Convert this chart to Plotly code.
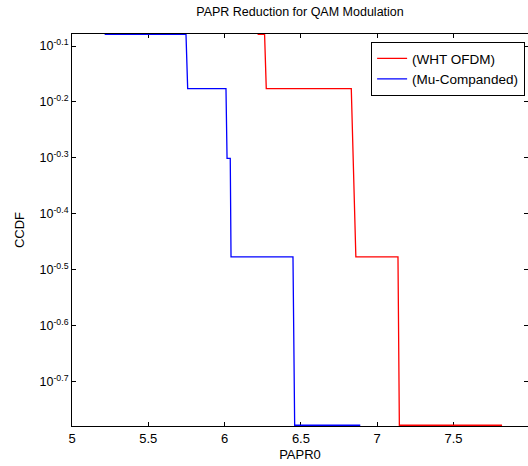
import numpy as np
import plotly.graph_objects as go

# Data (CCDF step curves)
wht_x = [6.216, 6.262, 6.273, 6.830, 6.860, 7.136, 7.145, 7.818]
wht_y = [5/6, 5/6, 4/6, 4/6, 2/6, 2/6, 1/6, 1/6]

mu_x = [5.214, 5.747, 5.758, 6.009, 6.016, 6.037, 6.042, 6.448, 6.459, 6.889]
mu_y = [5/6, 5/6, 4/6, 4/6, 3/6, 3/6, 2/6, 2/6, 1/6, 1/6]

x_ticks = [5, 5.5, 6, 6.5, 7, 7.5, 8]
x_ticktext = ["5", "5.5", "6", "6.5", "7", "7.5", "8"]
y_exps = [-0.1, -0.2, -0.3, -0.4, -0.5, -0.6, -0.7]

FONT = "Arial, Liberation Sans, sans-serif"

fig = go.Figure()
fig.add_trace(go.Scatter(x=wht_x, y=wht_y, mode="lines", name="(WHT OFDM)",
                         line=dict(color="#ff0000", width=1.3)))
fig.add_trace(go.Scatter(x=mu_x, y=mu_y, mode="lines", name="(Mu-Companded)",
                         line=dict(color="#0000ff", width=1.3)))

fig.update_layout(
    width=528, height=466,
    margin=dict(l=72, r=0, t=34, b=40),
    paper_bgcolor="white", plot_bgcolor="white",
    font=dict(family=FONT, size=13, color="black"),
    title=dict(text="PAPR Reduction for QAM Modulation", x=0.5, xref="paper",
               xanchor="center", y=1 - 12/466, yanchor="middle",
               font=dict(size=12.5, color="black")),
    showlegend=True,
    legend=dict(x=0.993, y=0.98, xanchor="right", yanchor="top",
                bgcolor="white", bordercolor="black", borderwidth=1.3,
                font=dict(size=13.5), entrywidth=132, entrywidthmode="pixels",
                tracegroupgap=0),
)

fig.update_xaxes(
    range=[5, 7.988], tickvals=x_ticks, ticktext=x_ticktext,
    showgrid=False, zeroline=False,
    showline=True, linecolor="black", linewidth=1, mirror="ticks",
    ticks="inside", ticklen=4, tickcolor="black",
    tickfont=dict(size=13), layer="below traces",
    title=dict(text="PAPR0", font=dict(size=13), standoff=5),
)

fig.update_yaxes(
    type="log", range=[-0.7795, -0.0785],
    tickvals=[10 ** e for e in y_exps],
    ticktext=["10<sup>%s</sup>" % e for e in y_exps],
    showgrid=False, zeroline=False,
    showline=True, linecolor="black", linewidth=1, mirror="ticks",
    ticks="inside", ticklen=4, tickcolor="black",
    tickfont=dict(size=12.5), layer="below traces",
    title=dict(text="CCDF", font=dict(size=13), standoff=11),
)

fig.write_html("out.html")
